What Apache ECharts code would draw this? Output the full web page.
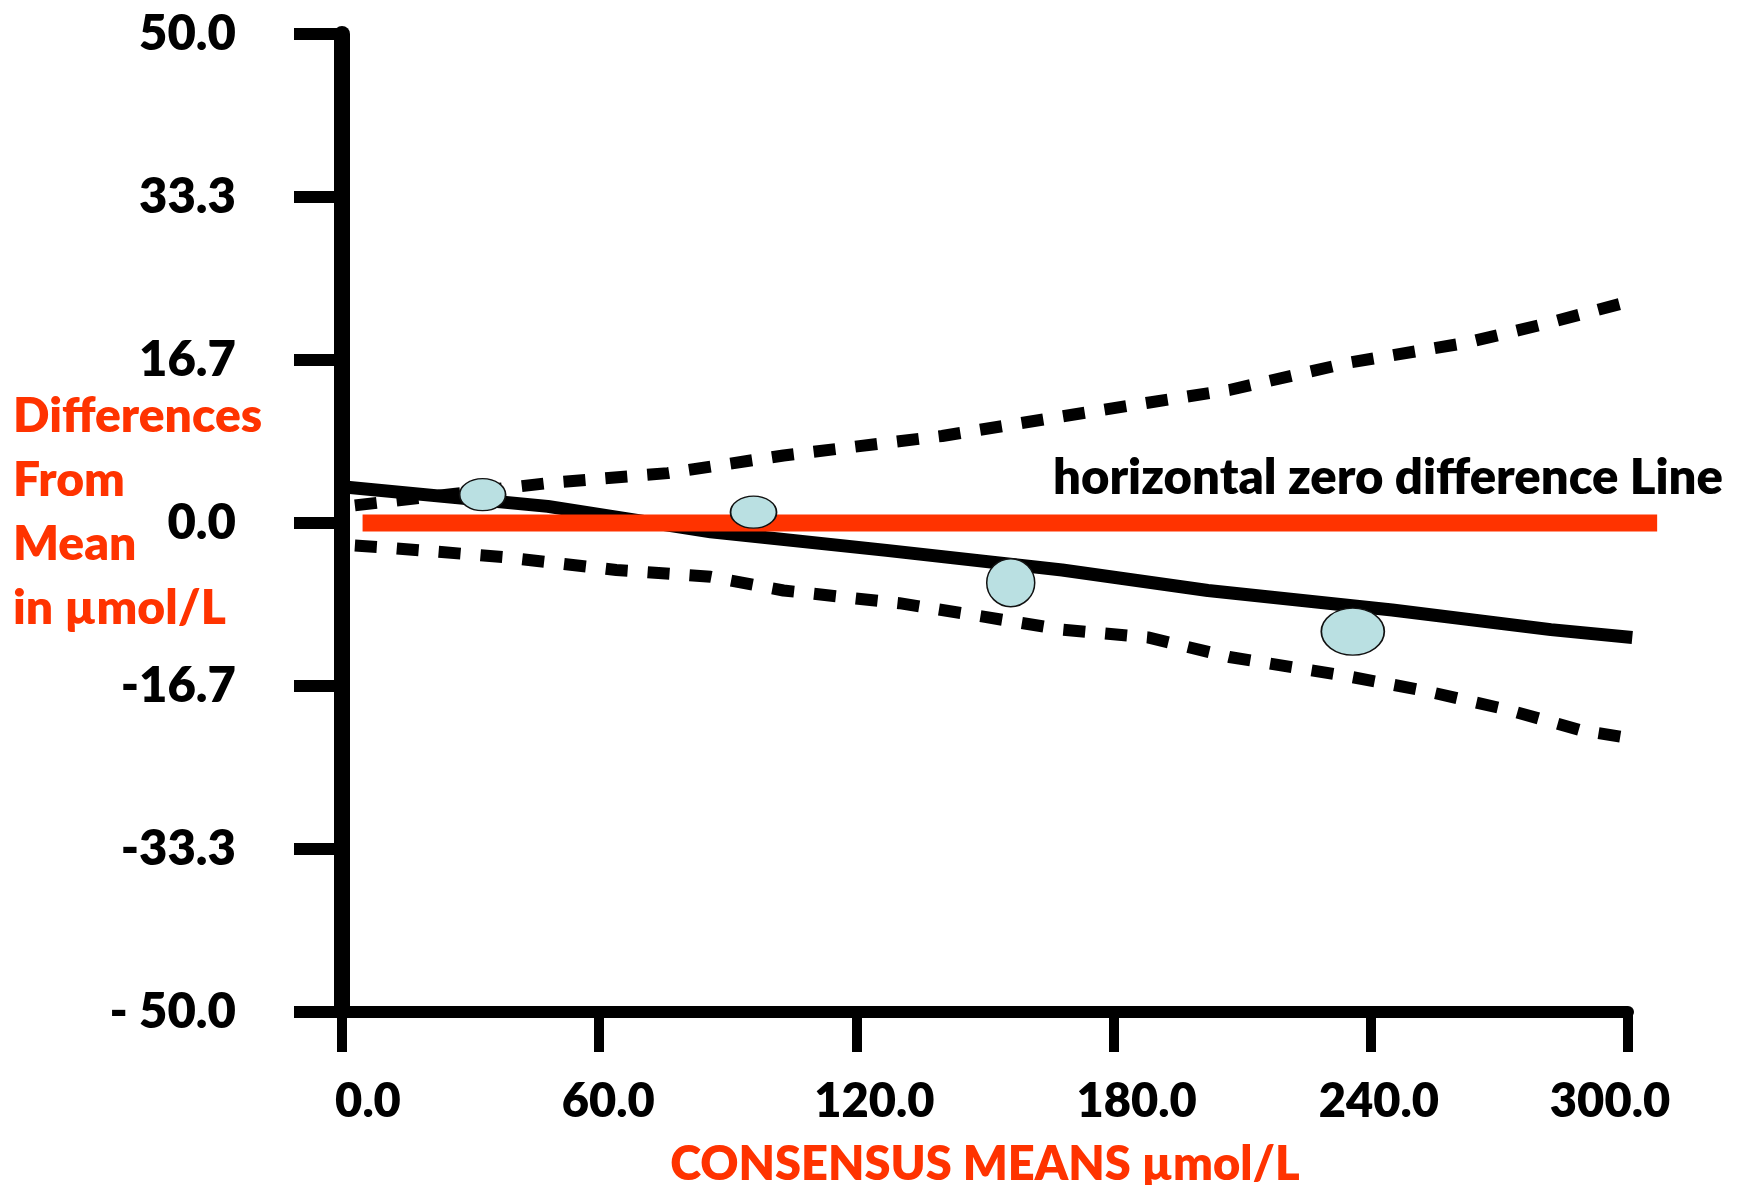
<!DOCTYPE html>
<html>
<head>
<meta charset="utf-8">
<script src="https://cdn.jsdelivr.net/npm/echarts@6/dist/echarts.min.js"></script>
<style>
  html, body { margin: 0; padding: 0; background: #fff; }
  #main { width: 1742px; height: 1185px; }
</style>
</head>
<body>
<!-- chart container -->
<div id="main"></div>
<script>
// axis tick labels (bottom to top / left to right)
var yTickLabels = ['- 50.0', '-33.3', '-16.7', '0.0', '16.7', '33.3', '50.0']
var xTickLabels = ['0.0', '60.0', '120.0', '180.0', '240.0', '300.0']

// mean difference (solid black line)
var meanLine = [[0, 3.7], [48, 1.7], [86, -0.9], [127, -2.8], [168, -4.8], [202, -6.9], [245, -8.9], [282, -10.9], [301, -11.7]]
// upper and lower limits (dashed black lines)
var upperLimit = [[3, 1.8], [48.5, 4.1], [76, 5.1], [103, 6.9], [140, 8.9], [168, 10.9], [188, 12.3], [207, 13.6], [235, 16.4], [262, 18.4], [281, 20.4], [299, 22.5]]
var lowerLimit = [[3, -2.3], [10, -2.5], [38, -3.5], [64, -4.8], [86, -5.5], [103, -6.9], [130, -8.2], [150, -9.6], [168, -10.9], [188, -11.7], [207, -13.7], [235, -15.7], [252, -17.1], [272, -19.1], [289, -21.2], [299, -21.9]]
// measured samples
var sampleX = [32.8, 96.0, 156.0, 235.8]
var sampleY = [2.9, 1.1, -6.1, -11.1]
// horizontal zero difference line (runs a little past the end of the x axis)
var zeroLineX = [4.8, 306.8]
var zeroLineY = [0, 0]

// marker sizes of the samples (style only)
var sampleSizes = [[46, 32], [46, 32], [48, 48], [63, 47]]
// horizontal nudge of each x tick label, px (style only)
var xLabelNudge = [26, 9, 18, 23, 8, -18]

var orange = '#FF3300'
var font = 'Lato'
var weight = 800

var samples = sampleX.map(function (x, i) { return [x, sampleY[i]] })
var zeroLine = zeroLineX.map(function (x, i) { return [x, zeroLineY[i]] })

// rich styles that shift each x label off its tick like the original
var xLabelRich = {}
xLabelNudge.forEach(function (d, i) {
  xLabelRich['t' + i] = {
    color: '#000',
    fontFamily: font,
    fontWeight: weight,
    fontSize: 47,
    padding: d >= 0 ? [0, 0, 0, 2 * d] : [0, -2 * d, 0, 0]
  }
})

// px per x unit of the main grid, used to size the wider helper grid for the zero line
var xSpan = 300
var gridLeft = 342
var gridRight = 114
var plotWidth = 1742 - gridLeft - gridRight
var wideMax = 310
var wideRight = 1742 - gridLeft - plotWidth * wideMax / xSpan

var chart = echarts.init(document.getElementById('main'))
var option = {
  backgroundColor: '#fff',
  animation: false,
  grid: [
    { left: gridLeft, right: gridRight, top: 34, bottom: 173, outerBoundsMode: 'none' },
    { left: gridLeft, right: wideRight, top: 34, bottom: 173, outerBoundsMode: 'none' }
  ],
  xAxis: [
    {
      type: 'value',
      gridIndex: 0,
      min: 0,
      max: xSpan,
      interval: 60,
      name: 'CONSENSUS MEANS µmol/L',
      nameLocation: 'middle',
      nameGap: 129,
      nameTextStyle: { color: orange, fontFamily: font, fontWeight: weight, fontSize: 47 },
      splitLine: { show: false },
      axisLine: { onZero: false, lineStyle: { color: '#000', width: 12 } },
      axisTick: { length: 40, lineStyle: { color: '#000', width: 10 } },
      axisLabel: {
        margin: 66,
        rich: xLabelRich,
        formatter: function (v) {
          var i = Math.round(v / 60)
          return '{t' + i + '|' + xTickLabels[i] + '}'
        }
      }
    },
    {
      type: 'value',
      gridIndex: 1,
      min: 0,
      max: wideMax,
      show: false
    }
  ],
  yAxis: [
    {
      type: 'value',
      gridIndex: 0,
      min: -50,
      max: 50,
      interval: 100 / 6,
      splitLine: { show: false },
      axisLine: { onZero: false, lineStyle: { color: '#000', width: 16 } },
      axisTick: { length: 48, lineStyle: { color: '#000', width: 12 } },
      axisLabel: {
        margin: 106,
        color: '#000',
        fontFamily: font,
        fontWeight: weight,
        fontSize: 49,
        formatter: function (v) { return yTickLabels[Math.round((v + 50) / (100 / 6))] }
      }
    },
    {
      type: 'value',
      gridIndex: 1,
      min: -50,
      max: 50,
      show: false
    }
  ],
  graphic: [
    {
      type: 'text',
      left: 13,
      top: 385,
      style: {
        text: 'Differences\nFrom\nMean\nin µmol/L',
        fill: orange,
        font: weight + ' 48px ' + font,
        lineHeight: 64
      }
    },
    {
      type: 'text',
      left: 1053,
      top: 454,
      style: {
        text: 'horizontal zero difference Line',
        fill: '#000',
        font: weight + ' 49px ' + font
      }
    }
  ],
  series: [
    {
      name: 'upper',
      type: 'line',
      data: upperLimit,
      symbol: 'none',
      lineStyle: { color: '#000', width: 12, type: [22, 20], cap: 'butt' },
      z: 2
    },
    {
      name: 'lower',
      type: 'line',
      data: lowerLimit,
      symbol: 'none',
      lineStyle: { color: '#000', width: 12, type: [22, 20], cap: 'butt' },
      z: 2
    },
    {
      name: 'mean',
      type: 'line',
      data: meanLine,
      symbol: 'none',
      lineStyle: { color: '#000', width: 13 },
      z: 2
    },
    {
      name: 'zero',
      type: 'line',
      xAxisIndex: 1,
      yAxisIndex: 1,
      data: zeroLine,
      symbol: 'none',
      lineStyle: { color: orange, width: 17, cap: 'butt' },
      z: 3
    },
    {
      name: 'samples',
      type: 'scatter',
      data: samples,
      symbol: 'circle',
      symbolSize: function (val, params) { return sampleSizes[params.dataIndex] },
      itemStyle: { color: '#BAE0E2', borderColor: '#111', borderWidth: 1.5, opacity: 1 },
      z: 4
    }
  ]
}
chart.setOption(option)
</script>
</body>
</html>
